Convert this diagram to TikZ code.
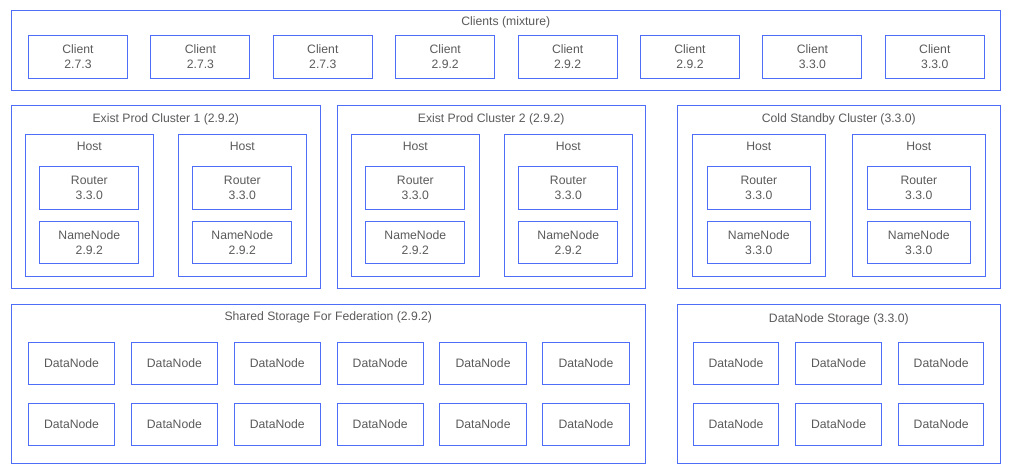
\documentclass[tikz,border=0pt]{standalone}
\usepackage{fontspec}
\setmainfont{Liberation Sans}
\definecolor{boxblue}{RGB}{79,110,247}
\definecolor{labelgrey}{RGB}{90,90,90}
\tikzset{
	box/.style={draw=boxblue, line width=1pt, inner sep=0pt, text=labelgrey, align=center, font=\fontsize{12.2}{15}\selectfont},
	frame/.style={box, anchor=north west},
	boxtitle/.style={inner sep=0pt, text=labelgrey, font=\fontsize{12.2}{15}\selectfont, text height=9pt, text depth=2.5pt},
}
\begin{document}
\begin{tikzpicture}[x=1pt, y=-1pt]
	\useasboundingbox (0,0) rectangle (1011,474);
	\node[frame, minimum width=989pt, minimum height=79.7pt] (clients) at (11.3,10.3) {};
	\node[boxtitle] (clientstitle) at (505.8,21.8) {Clients (mixture)};
	\foreach \ver [count=\i from 0] in {2.7.3,2.7.3,2.7.3,2.9.2,2.9.2,2.9.2,3.3.0,3.3.0}
		\node[box, minimum width=99pt, minimum height=43pt] (client\i) at (78+122.4*\i,56.8) {Client\\\ver};
	\foreach \cl/\cx/\cw/\ha/\hb/\hw/\rw/\ttl/\nver in {
		1/11.3/309/25.3/178.3/128/99/{Exist Prod Cluster 1 (2.9.2)}/2.9.2,
		2/337.3/307.7/351.3/504.3/128/99/{Exist Prod Cluster 2 (2.9.2)}/2.9.2,
		3/677.3/323/692.3/852.3/133/103.5/{Cold Standby Cluster (3.3.0)}/3.3.0}
	{
		\node[frame, minimum width=\cw pt, minimum height=183pt] (cluster\cl) at (\cx,105.3) {};
		\node[boxtitle] (title\cl) at (\cx+\cw/2,119.5) {\ttl};
		\foreach \hx [count=\j] in {\ha,\hb} {
			\node[frame, minimum width=\hw pt, minimum height=142pt] (host\cl\j) at (\hx,134.3) {};
			\node[boxtitle] (hosttitle\cl\j) at (\hx+\hw/2,147) {Host};
			\node[box, minimum width=\rw pt, minimum height=43pt] (router\cl\j) at (\hx+\hw/2,187.8) {Router\\3.3.0};
			\node[box, minimum width=\rw pt, minimum height=42pt] (nn\cl\j) at (\hx+\hw/2,242.2) {NameNode\\\nver};
		}
	}
	\node[frame, minimum width=634pt, minimum height=159pt] (shared) at (11.3,304.3) {};
	\node[boxtitle] (sharedtitle) at (328.3,317) {Shared Storage For Federation (2.9.2)};
	\node[frame, minimum width=323pt, minimum height=159pt] (dnstore) at (677.3,304.3) {};
	\node[boxtitle] (dnstoretitle) at (838.8,319) {DataNode Storage (3.3.0)};
	\foreach \r/\ry in {1/363.3,2/424.3} {
		\foreach \j in {0,...,5}
			\node[box, minimum width=86.4pt, minimum height=42pt] (sdn\r\j) at (71.5+102.9*\j,\ry) {DataNode};
		\foreach \j in {0,1,2}
			\node[box, minimum width=85.5pt, minimum height=42pt] (cdn\r\j) at (736+102.6*\j,\ry) {DataNode};
	}
\end{tikzpicture}
\end{document}
